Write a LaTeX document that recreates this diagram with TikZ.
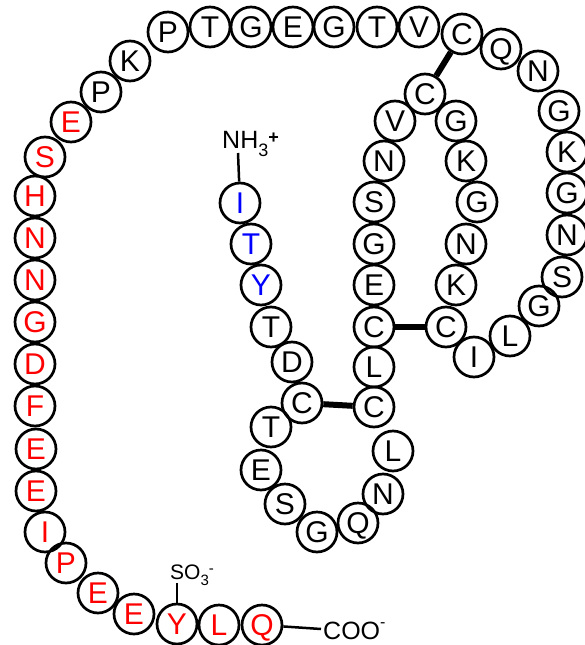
\documentclass[tikz,border=0pt]{standalone}
\usepackage{fontspec}
\setmainfont{Liberation Sans}
\definecolor{aared}{RGB}{255,0,0}
\definecolor{aablue}{RGB}{0,0,255}
\newcommand{\fsz}[1]{\fontsize{#1}{#1}\selectfont}
\begin{document}
\begin{tikzpicture}[x=1pt,y=-1pt,
  res/.style={circle,draw,line width=2.7pt,minimum size=40pt,inner sep=0pt,
    font=\fsz{30},text height=21.5pt,text depth=0pt},
  rr/.style={res,text=aared},
  bb/.style={res,text=aablue},
  ssbond/.style={line width=6pt},
  thin/.style={line width=2.5pt},
  lbl/.style={anchor=base west,inner sep=0pt}]
\useasboundingbox (0,0) rectangle (584,645);
% top and right
\node[res] (p1) at (168,32) {P};
\node[res] (t1) at (210,27) {T};
\node[res] (g1) at (251,27) {G};
\node[res] (e1) at (293,27) {E};
\node[res] (g2) at (334,27) {G};
\node[res] (t2) at (377,27) {T};
\node[res] (v1) at (419,27) {V};
\node[res] (c1) at (462,34) {C};
\node[res] (q1) at (501,49) {Q};
\node[res] (n1) at (538,71) {N};
\node[res] (g3) at (559,111) {G};
\node[res] (k1) at (567,152) {K};
\node[res] (g4) at (567,193) {G};
\node[res] (n2) at (567,235) {N};
\node[res] (s1) at (562,277) {S};
\node[res] (g5) at (539,306) {G};
\node[res] (l1) at (510,336) {L};
\node[res] (i1) at (474,357) {I};
\node[res] (c2) at (446,327) {C};
\node[res] (k2) at (456,285) {K};
\node[res] (n3) at (466,244) {N};
\node[res] (g6) at (477,202) {G};
\node[res] (k3) at (466,161) {K};
\node[res] (g7) at (456,121) {G};
\node[res] (c3) at (425,94) {C};
\node[res] (v2) at (395,121) {V};
\node[res] (n4) at (384,161) {N};
\node[res] (s2) at (374,202) {S};
\node[res] (g8) at (374,244) {G};
\node[res] (e2) at (374,285) {E};
\node[res] (c4) at (374,327) {C};
\node[res] (l2) at (374,367) {L};
\node[res] (c5) at (374,407) {C};
\node[res] (l3) at (393,451) {L};
\node[res] (n5) at (383,494) {N};
\node[res] (q2) at (358,523) {Q};
\node[res] (g9) at (317,532) {G};
\node[res] (s3) at (285,504) {S};
\node[res] (e3) at (261,470) {E};
\node[res] (t3) at (271,427) {T};
\node[res] (c6) at (302,403) {C};
\node[res] (d1) at (292,362) {D};
\node[res] (t4) at (271,327) {T};
\node[bb] (y2) at (261,285) {Y};
\node[bb] (t5) at (251,244) {T};
\node[bb] (i2) at (240,203) {I};
% left arc
\node[res] (k4) at (130,61) {K};
\node[res] (p2) at (101,92) {P};
\node[rr] (e4) at (71,122) {E};
\node[rr] (s4) at (45,157) {S};
\node[rr] (h1) at (35,196) {H};
\node[rr] (n6) at (35,238) {N};
\node[rr] (n7) at (35,280) {N};
\node[rr] (g10) at (35,322) {G};
\node[rr] (d2) at (35,364) {D};
\node[rr] (f1) at (35,406) {F};
\node[rr] (e5) at (36,449) {E};
\node[rr] (e6) at (36,491) {E};
\node[rr] (i3) at (45,532) {I};
\node[rr] (p3) at (66,563) {P};
\node[rr] (e7) at (98,593) {E};
\node[rr] (e8) at (134,614) {E};
\node[rr] (y1) at (177,624) {Y};
\node[rr] (l4) at (219,625) {L};
\node[rr] (q3) at (262,625) {Q};
% disulfide bonds
\draw[ssbond] (c1) -- (c3);
\draw[ssbond] (c4) -- (c2);
\draw[ssbond] (c6) -- (c5);
% termini and sulfate
\node[lbl,font=\fsz{25}] (nh) at (222,148)
  {NH\raisebox{-8pt}{\fsz{18}3}\raisebox{5pt}{\fsz{18}\bfseries +}};
\coordinate (nhb) at (238,153);
\draw[thin] (nhb) -- (i2);
\node[lbl,font=\fsz{21}] (so) at (170,579)
  {SO\raisebox{-6pt}{\fsz{15}3}\raisebox{6pt}{\fsz{15}-}};
\coordinate (sob) at (177,583);
\draw[thin] (sob) -- (y1);
\node[lbl,font=\fsz{25}] (coo) at (323,639)
  {COO\raisebox{12pt}{\fsz{16}-}};
\coordinate (cooa) at (321,629);
\draw[thin] (q3) -- (cooa);
\end{tikzpicture}
\end{document}
